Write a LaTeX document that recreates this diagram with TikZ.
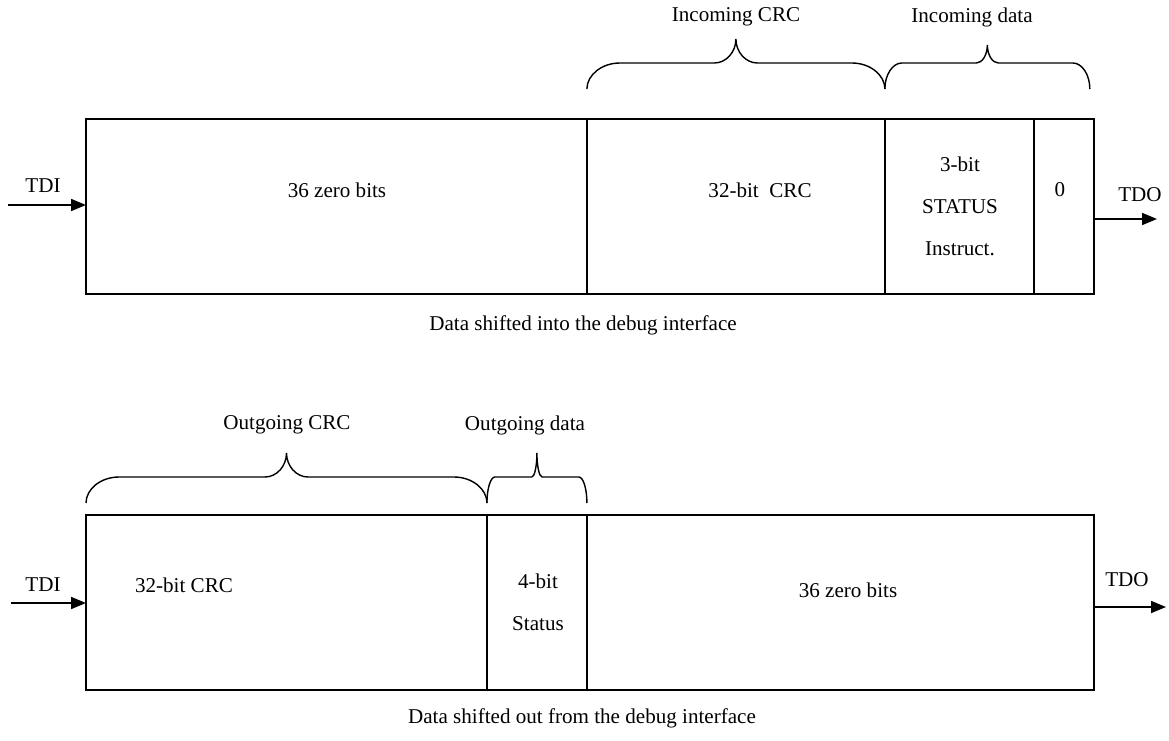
\documentclass[tikz,border=0pt]{standalone}
\usepackage{fontspec}
\setmainfont{Liberation Serif}
\usetikzlibrary{positioning, arrows.meta, calc}

\begin{document}
\begin{tikzpicture}[
    x=0.02cm, y=-0.02cm,
    field/.style={
        rectangle,
        draw=black,
        line width=0.9pt,
        minimum height=3.5cm,
        inner sep=0pt,
        outer sep=0pt,
        anchor=north west
    },
    arrow/.style={-{Triangle[length=3mm, width=2.4mm]}, line width=1pt},
    txt/.style={font=\fontsize{12}{14}\selectfont, inner sep=0pt},
    stack/.style={font=\fontsize{12}{24}\selectfont, align=center, inner sep=0pt},
    pics/brc/.style args={#1/#2/#3}{code={
        \draw[line width=0.8pt] (0,0) .. controls (0,-14) and ({0.45*#2},-26) .. (#2,-26)
            -- ({#1/2-0.65*#2},-26) .. controls ({#1/2-0.3*#2},-26) and ({#1/2},{-26-0.45*(#3-26)}) .. ({#1/2},-#3)
            .. controls ({#1/2},{-26-0.45*(#3-26)}) and ({#1/2+0.3*#2},-26) .. ({#1/2+0.65*#2},-26)
            -- ({#1-#2},-26) .. controls ({#1-0.45*#2},-26) and (#1,-14) .. (#1,0);
    }}
]
\useasboundingbox (0,0) rectangle (1169,740);

% Data shifted in
\node[field, minimum width=10.02cm] (zeroIn) at (86,119) {};
\node[field, minimum width=5.96cm, right=0pt of zeroIn] (crcIn) {};
\node[field, minimum width=2.98cm, right=0pt of crcIn] (statusIn) {};
\node[field, minimum width=1.2cm, right=0pt of statusIn] (bitIn) {};

\node[txt] (zeroInText) at (337,190) {36 zero bits};
\node[txt] (crcInText) at (760,190) {32-bit\ \ CRC};
\node[stack] (statusInText) at (960,206) {3-bit\\STATUS\\Instruct.};
\node[txt] (bitInText) at (1060,190) {0};

% Braces over the incoming fields
\pic at ($(crcIn.north west)+(0,-30)$) {brc=298/33/50};
\pic at ($(statusIn.north west)+(0,-30)$) {brc=205/17/44};
\node[txt] (crcInLabel) at (736,17) {Incoming CRC};
\node[txt] (dataInLabel) at (972,17) {Incoming data};

% TDI / TDO
\coordinate (tdiInA) at (8,205);
\draw[arrow] (tdiInA) -- (tdiInA -| zeroIn.west);
\node[txt] (tdiInLabel) at (43,186) {TDI};
\coordinate (tdoInA) at (1157,219);
\draw[arrow] (tdoInA -| bitIn.east) -- (tdoInA);
\node[txt] (tdoInLabel) at (1140,195) {TDO};

\node[txt] (captionIn) at (583,325) {Data shifted into the debug interface};

% Data shifted out
\node[field, minimum width=8.02cm] (crcOut) at (86,515) {};
\node[field, minimum width=2cm, right=0pt of crcOut] (statusOut) {};
\node[field, minimum width=10.14cm, right=0pt of statusOut] (zeroOut) {};

\node[txt] (crcOutText) at (184,585) {32-bit CRC};
\node[stack] (statusOutText) at (538,602) {4-bit\\Status};
\node[txt] (zeroOutText) at (848,590) {36 zero bits};

% Braces over the outgoing fields
\pic at ($(crcOut.north west)+(0,-12)$) {brc=401/33/50};
\pic at ($(statusOut.north west)+(0,-12)$) {brc=100/8/50};
\node[txt] (crcOutLabel) at (287,425) {Outgoing CRC};
\node[txt] (dataOutLabel) at (525,425) {Outgoing data};

% TDI / TDO
\coordinate (tdiOutA) at (11,603);
\draw[arrow] (tdiOutA) -- (tdiOutA -| crcOut.west);
\node[txt] (tdiOutLabel) at (43,585) {TDI};
\coordinate (tdoOutA) at (1166,607);
\draw[arrow] (tdoOutA -| zeroOut.east) -- (tdoOutA);
\node[txt] (tdoOutLabel) at (1127,580) {TDO};

\node[txt] (captionOut) at (582,718) {Data shifted out from the debug interface};

\end{tikzpicture}
\end{document}
